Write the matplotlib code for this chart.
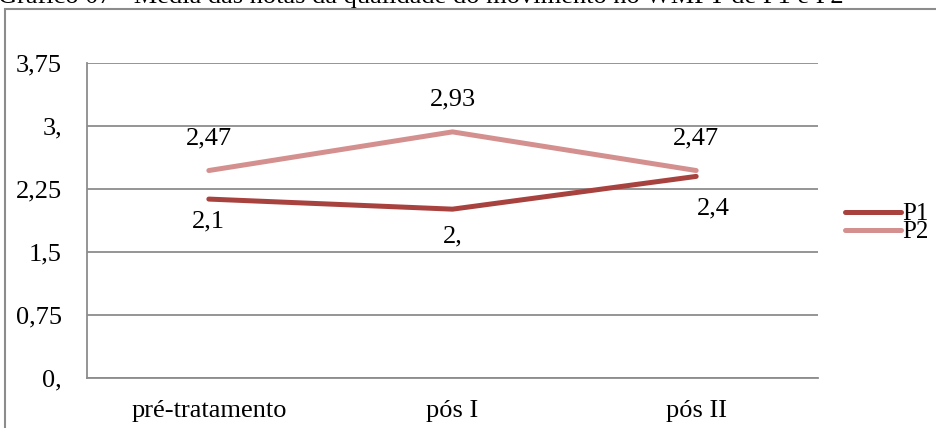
import matplotlib
matplotlib.use("Agg")
import matplotlib.pyplot as plt
from matplotlib.patches import Rectangle
from matplotlib.ticker import FixedLocator

categories = ["pré-tratamento", "pós I", "pós II"]
p1_values = [2.13, 2.01, 2.40]
p2_values = [2.47, 2.93, 2.47]
p1_labels = ["2,1", "2,", "2,4"]
p2_labels = ["2,47", "2,93", "2,47"]
y_ticks = [0, 0.75, 1.5, 2.25, 3.0, 3.75]
y_tick_labels = ["0,", "0,75", "1,5", "2,25", "3,", "3,75"]
title = "Gráfico 07 - Média das notas da qualidade do movimento no WMFT de P1 e P2"

plt.rcParams['font.family'] = ['Liberation Serif', 'DejaVu Serif']
FS = 19

W, H = 936, 428
fig = plt.figure(figsize=(W/100, H/100), dpi=100)

# outer chart frame
fig.patches.append(Rectangle((5/W, -0.1), 1.2, 1 - 9/H + 0.1, transform=fig.transFigure,
                             fill=False, edgecolor="#8c8c8c", linewidth=1.5))
# partially cut title (as in the reference)
fig.text(-2/W, 1 - 3/H, title, fontsize=FS, ha="left", va="baseline", color="black")

ax = fig.add_axes([87/W, 1 - 378/H, (818 - 87)/W, (378 - 63)/H])
x = list(range(len(categories)))
ax.plot(x, p1_values, color="#A8423F", linewidth=3.6, solid_capstyle="round", label="P1", zorder=3)
ax.plot(x, p2_values, color="#D4908E", linewidth=3.6, solid_capstyle="round", label="P2", zorder=3)

ax.set_xlim(-0.5, 2.5)
ax.set_ylim(0, 3.75)
ax.yaxis.set_major_locator(FixedLocator(y_ticks))
ax.set_yticklabels(y_tick_labels)
ax.set_xticks(x)
ax.set_xticklabels(categories)
ax.tick_params(axis="both", length=0, labelsize=FS)
ax.tick_params(axis="y", pad=18)
ax.tick_params(axis="x", pad=16)
ax.grid(axis="y", color="#8c8c8c", linewidth=1.3)
for s in ["top", "right"]:
    ax.spines[s].set_visible(False)
for s in ["left", "bottom"]:
    ax.spines[s].set_color("#8c8c8c")
    ax.spines[s].set_linewidth(1.3)
ax.set_axisbelow(True)

p1_offsets = [(0, -16), (0, -20), (12, -23)]
for xi, v, lab, off in zip(x, p1_values, p1_labels, p1_offsets):
    ax.annotate(lab, (xi, v), xytext=off, textcoords="offset points",
                ha="center", va="center", fontsize=FS)
for xi, v, lab in zip(x, p2_values, p2_labels):
    ax.annotate(lab, (xi, v), xytext=(0, 23), textcoords="offset points",
                ha="center", va="center", fontsize=FS)

leg = fig.legend(loc="center left", bbox_to_anchor=(845/W, 1 - 223/H), frameon=False,
                 fontsize=18, handlelength=2.25, handletextpad=0.05, labelspacing=-0.18,
                 borderpad=0, borderaxespad=0)

fig.savefig("out.png", dpi=100)
